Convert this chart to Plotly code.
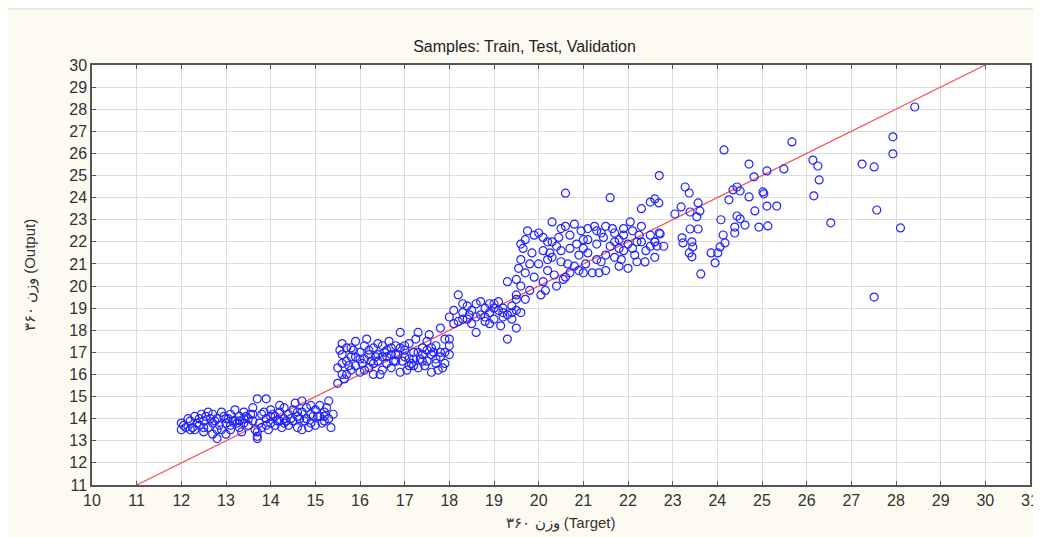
import plotly.graph_objects as go

# ---- data ----
# cluster around target 12-15.4
c1_x = [12.0, 12.0, 12.1, 12.2, 12.3, 12.3, 12.4, 12.5, 12.5, 12.6, 12.6, 12.7, 12.7, 12.8, 12.8, 12.9, 12.9, 13.0, 13.0, 13.1,
        13.1, 13.2, 13.2, 13.3, 13.3, 13.4, 13.4, 13.5, 13.5, 13.6, 13.6, 13.7, 13.7, 13.7, 13.8, 13.8, 13.9, 13.9, 14.0, 14.0,
        14.1, 14.1, 14.2, 14.2, 14.3, 14.3, 14.4, 14.4, 14.5, 14.5, 14.6, 14.6, 14.7, 14.7, 14.7, 14.8, 14.8, 14.9, 14.9, 15.0,
        15.0, 15.1, 15.1, 15.2, 15.2, 15.3, 15.3, 15.4, 12.15, 12.45, 12.75, 13.05, 13.35, 13.65, 13.95, 14.25, 14.55, 14.85, 15.15, 12.35,
        12.65, 12.95, 13.25, 13.55, 13.85, 14.15, 14.45, 14.75, 15.05, 15.35,
        12.05, 12.25, 12.55, 12.85, 13.15, 13.45, 13.75, 14.05, 14.35, 14.65, 14.95, 15.25, 12.2, 12.5, 12.8, 13.1, 13.4, 13.7, 14.0, 14.3,
        14.6, 14.9, 15.2, 12.4, 12.7, 13.0, 13.3, 13.6, 13.9, 14.2]
c1_y = [13.5, 13.8, 13.6, 13.9, 14.1, 13.5, 13.7, 13.9, 13.4, 14.3, 13.6, 13.3, 13.8, 13.1, 14.0, 13.5, 14.3, 13.8, 13.3, 14.2,
        13.7, 14.4, 13.9, 14.1, 13.6, 14.3, 13.8, 14.0, 13.7, 14.5, 13.9, 13.2, 13.1, 14.9, 14.2, 13.6, 14.9, 14.0, 13.8, 14.4,
        14.1, 13.7, 14.3, 13.9, 14.5, 14.0, 13.7, 14.2, 14.4, 13.9, 14.1, 13.6, 14.8, 14.3, 13.5, 14.0, 14.5, 13.8, 14.2, 14.4,
        13.7, 14.1, 14.6, 13.9, 14.3, 14.8, 14.0, 14.2, 14.0, 14.2, 13.9, 14.0, 13.4, 13.5, 13.5, 13.6, 14.7, 13.6, 13.8, 13.8,
        14.0, 14.1, 13.8, 14.2, 14.3, 13.9, 14.0, 13.9, 14.1, 13.6,
        13.7, 13.6, 14.1, 13.7, 13.9, 14.1, 13.8, 14.2, 13.9, 14.0, 14.1, 14.5, 13.5, 13.6, 13.5, 13.5, 14.0, 13.4, 14.1, 13.8,
        14.3, 14.6, 14.1, 14.0, 14.2, 14.0, 13.9, 14.2, 13.7, 14.6]

# cluster around target 15.5-18
c2_x = [15.5, 15.5, 15.6, 15.6, 15.6, 15.7, 15.7, 15.8, 15.8, 15.9, 15.9, 16.0, 16.0, 16.1, 16.1, 16.2, 16.2, 16.3, 16.3, 16.4,
        16.4, 16.5, 16.5, 16.6, 16.6, 16.7, 16.7, 16.8, 16.8, 16.9, 16.9, 17.0, 17.0, 17.1, 17.1, 17.2, 17.2, 17.3, 17.3, 17.4,
        17.4, 17.5, 17.5, 17.6, 17.6, 17.7, 17.7, 17.8, 17.8, 17.9, 17.9, 18.0, 18.0, 15.65, 16.05, 16.35, 16.65, 16.95, 17.25, 17.55,
        17.85, 15.85, 16.15, 16.45, 16.75, 17.05, 17.65, 17.45, 15.55, 15.75, 16.25, 16.55, 16.85, 17.15, 17.35, 17.75,
        15.6, 15.7, 15.9, 16.0, 16.2, 16.3, 16.5, 16.6, 16.8, 16.9, 17.1, 17.2, 17.4, 17.5, 17.7, 17.8, 18.0, 15.8, 16.1, 16.4,
        16.7, 17.0, 17.3, 17.6, 17.9]
c2_y = [15.6, 16.3, 16.9, 17.4, 16.0, 16.6, 17.2, 16.2, 16.8, 17.5, 16.4, 17.0, 16.1, 16.7, 17.3, 16.3, 16.9, 17.2, 16.0, 16.6,
        17.4, 16.2, 16.8, 17.1, 16.5, 16.9, 16.3, 17.3, 16.6, 17.9, 16.1, 16.8, 17.1, 16.4, 17.4, 16.7, 17.0, 17.9, 16.3, 16.9,
        17.2, 16.6, 17.5, 16.1, 16.9, 17.3, 16.7, 18.1, 17.0, 16.5, 17.6, 16.9, 17.3, 15.8, 16.5, 16.8, 17.5, 16.6, 17.6, 17.8,
        16.3, 17.1, 17.6, 16.0, 16.6, 16.2, 17.0, 16.4, 17.1, 16.4, 16.6, 17.0, 16.9, 16.5, 16.7, 16.2,
        16.5, 16.0, 16.8, 16.7, 17.1, 16.5, 17.3, 16.8, 16.9, 17.2, 16.7, 16.4, 16.6, 17.1, 16.5, 16.8, 17.6, 17.2, 16.2, 16.9,
        17.2, 17.3, 17.0, 17.2, 17.0]

# cluster around target 18-19.6
c3_x = [18.0, 18.1, 18.2, 18.2, 18.3, 18.4, 18.4, 18.5, 18.5, 18.6, 18.6, 18.7, 18.8, 18.8, 18.9, 19.0, 19.0, 19.1, 19.1, 19.2,
        19.2, 19.3, 19.3, 19.4, 19.4, 19.5, 19.5, 18.3, 18.7, 18.9, 19.0, 19.6, 19.3, 18.1, 18.45, 19.15,
        18.3, 18.6, 18.9, 19.2, 19.5, 18.8, 19.4]
c3_y = [18.6, 18.9, 19.6, 18.4, 18.8, 19.1, 18.5, 18.9, 18.3, 17.9, 19.2, 18.7, 19.0, 18.4, 18.8, 19.2, 18.5, 18.9, 19.3, 18.6,
        19.0, 18.7, 17.6, 19.1, 18.5, 18.1, 19.4, 19.2, 19.3, 18.3, 19.0, 18.8, 20.2, 18.3, 18.7, 18.2,
        18.5, 18.6, 19.2, 18.8, 18.9, 18.6, 18.8]

# cluster around target 19.5-22.8
c4_x = [19.5, 19.5, 19.55, 19.6, 19.6, 19.65, 19.7, 19.7, 19.75, 19.8, 19.8, 19.85, 19.9, 19.9, 19.6, 19.7,
        20.0, 20.0, 20.1, 20.1, 20.2, 20.2, 20.3, 20.3, 20.4, 20.4, 20.5, 20.5, 20.6, 20.6, 20.7, 20.7, 20.8, 20.8, 20.9, 21.0,
        21.0, 21.1, 21.1, 21.2, 21.3, 21.3, 21.4, 21.5, 21.5, 21.6, 21.6, 21.7, 21.7, 21.8, 21.8, 21.9, 21.9, 22.0, 22.0, 22.1,
        22.2, 22.3, 22.3, 22.4, 22.5, 22.5, 22.6, 22.7, 22.7, 22.8, 20.15, 20.35, 20.55, 20.05, 20.25, 20.45, 20.65, 20.85, 21.05, 21.25,
        21.45, 21.65, 21.85, 22.05, 22.25, 22.15, 21.35, 20.95, 22.6,
        20.1, 20.3, 20.5, 20.7, 20.9, 21.1, 21.3, 21.5, 21.7, 21.9, 22.1, 22.3, 22.5, 20.2, 20.6, 21.0, 21.4, 21.8, 22.2]
c4_y = [19.6, 20.3, 20.8, 21.2, 20.0, 21.7, 22.1, 20.6, 22.5, 21.0, 19.8, 21.5, 20.4, 22.3, 21.9, 19.4,
        21.0, 22.4, 20.2, 21.6, 22.0, 20.7, 21.3, 22.9, 20.0, 21.8, 22.6, 21.1, 24.2, 20.4, 21.7, 22.3, 20.9, 22.8, 21.4, 22.1,
        20.6, 21.5, 22.6, 20.6, 21.9, 22.5, 21.1, 22.7, 20.7, 21.8, 24.0, 22.4, 21.3, 20.9, 22.1, 21.6, 22.6, 20.8, 21.9, 22.5,
        21.1, 22.7, 23.5, 21.6, 22.3, 23.8, 22.0, 25.0, 22.4, 21.8, 19.8, 20.5, 20.3, 19.6, 21.5, 22.2, 21.0, 21.9, 21.0, 22.7,
        22.2, 22.6, 21.2, 22.9, 22.3, 21.4, 20.6, 22.5, 21.3,
        22.2, 22.0, 21.6, 20.6, 20.7, 22.1, 21.2, 21.4, 22.0, 22.3, 21.7, 22.0, 21.8, 21.2, 22.7, 21.7, 22.4, 21.7, 22.0]

# sparse points, target 22.4-28.5
c5_x = [24.15, 25.67, 24.71, 25.11, 25.49, 24.82, 24.44, 24.35, 24.51, 25.02, 25.04, 24.26, 24.71, 25.11, 25.33, 24.84, 24.08, 24.44,
        24.51, 24.39, 24.62, 24.93, 25.13, 24.39, 24.13, 24.17, 24.06, 24.01, 23.86, 23.95, 23.63, 23.28, 23.37, 23.57, 23.19, 23.05,
        23.39, 23.61, 23.54, 22.6, 22.69, 23.39, 23.57, 23.21, 23.23, 23.43, 23.45, 23.37, 23.43, 22.65, 22.6, 22.72, 22.38,
        26.14, 26.25, 26.28, 26.16, 26.54, 27.24, 27.51, 27.57, 27.51, 27.93, 27.93, 28.1, 28.42]
c5_y = [26.16, 26.52, 25.52, 25.21, 25.3, 24.94, 24.48, 24.35, 24.3, 24.26, 24.17, 23.9, 24.03, 23.62, 23.62, 23.4, 23.0, 23.17,
        23.04, 22.67, 22.76, 22.67, 22.72, 22.4, 22.31, 21.95, 21.77, 21.5, 21.5, 21.05, 20.55, 24.48, 24.21, 23.76, 23.58, 23.26,
        23.35, 23.4, 23.13, 23.94, 23.76, 22.58, 22.58, 22.18, 21.95, 22.0, 21.77, 21.5, 21.32, 21.81, 22.0, 22.36, 21.09,
        25.7, 25.43, 24.8, 24.08, 22.86, 25.52, 25.39, 23.44, 19.5, 26.75, 25.98, 22.63, 28.1]

target = c1_x + c2_x + c3_x + c4_x + c5_x
output = c1_y + c2_y + c3_y + c4_y + c5_y

line_x = [11, 30]
line_y = [11, 30]

x_ticks = list(range(10, 32))
y_ticks = list(range(11, 31))

FONT = "Liberation Sans, Arial, sans-serif"

fig = go.Figure()
fig.add_trace(go.Scatter(
    x=line_x, y=line_y, mode="lines",
    line=dict(color="#f25a5a", width=1.3), hoverinfo="skip", showlegend=False))
fig.add_trace(go.Scatter(
    x=target, y=output, mode="markers",
    marker=dict(symbol="circle-open", size=8, color="#2424ff", line=dict(width=1.2, color="#2424ff")),
    showlegend=False))

axis_common = dict(
    showline=True, linecolor="#555555", linewidth=1.5, mirror="ticks",
    ticks="inside", ticklen=4, tickcolor="#555555",
    showgrid=True, gridcolor="#dcdcdc", gridwidth=1, zeroline=False,
    automargin=False,
)

# the page body keeps its 8 px margin, so the figure starts at (8, 8)
W, H = 1033, 529
fig.update_layout(
    width=W, height=H,
    paper_bgcolor="#fdfaf2", plot_bgcolor="#ffffff",
    margin=dict(l=84, r=11, t=57, b=52),
    title=dict(text="Samples: Train, Test, Validation", x=0.5, xanchor="center",
               y=1 - 38 / H, yanchor="middle",
               font=dict(family=FONT, size=16, color="#222222")),
    xaxis=dict(range=[10, 31], tickvals=x_ticks, ticktext=[str(t) for t in x_ticks],
               tickfont=dict(family=FONT, size=16, color="#333333"),
               title=dict(text="وزن ۳۶۰ (Target)", standoff=10,
                          font=dict(family=FONT, size=15, color="#333333")),
               **axis_common),
    yaxis=dict(range=[11, 30], tickvals=y_ticks, ticktext=[str(t) for t in y_ticks],
               tickfont=dict(family=FONT, size=16, color="#333333"),
               title=dict(text="وزن ۳۶۰ (Output)", standoff=30,
                          font=dict(family=FONT, size=15, color="#333333")),
               **axis_common),
    shapes=[dict(type="line", xref="paper", yref="paper", x0=-84 / 938, x1=1.0 + 11 / 938,
                 y0=1 + 56 / 420, y1=1 + 56 / 420, line=dict(color="#e4e0d6", width=1.5))],
)

fig.write_html("out.html")
